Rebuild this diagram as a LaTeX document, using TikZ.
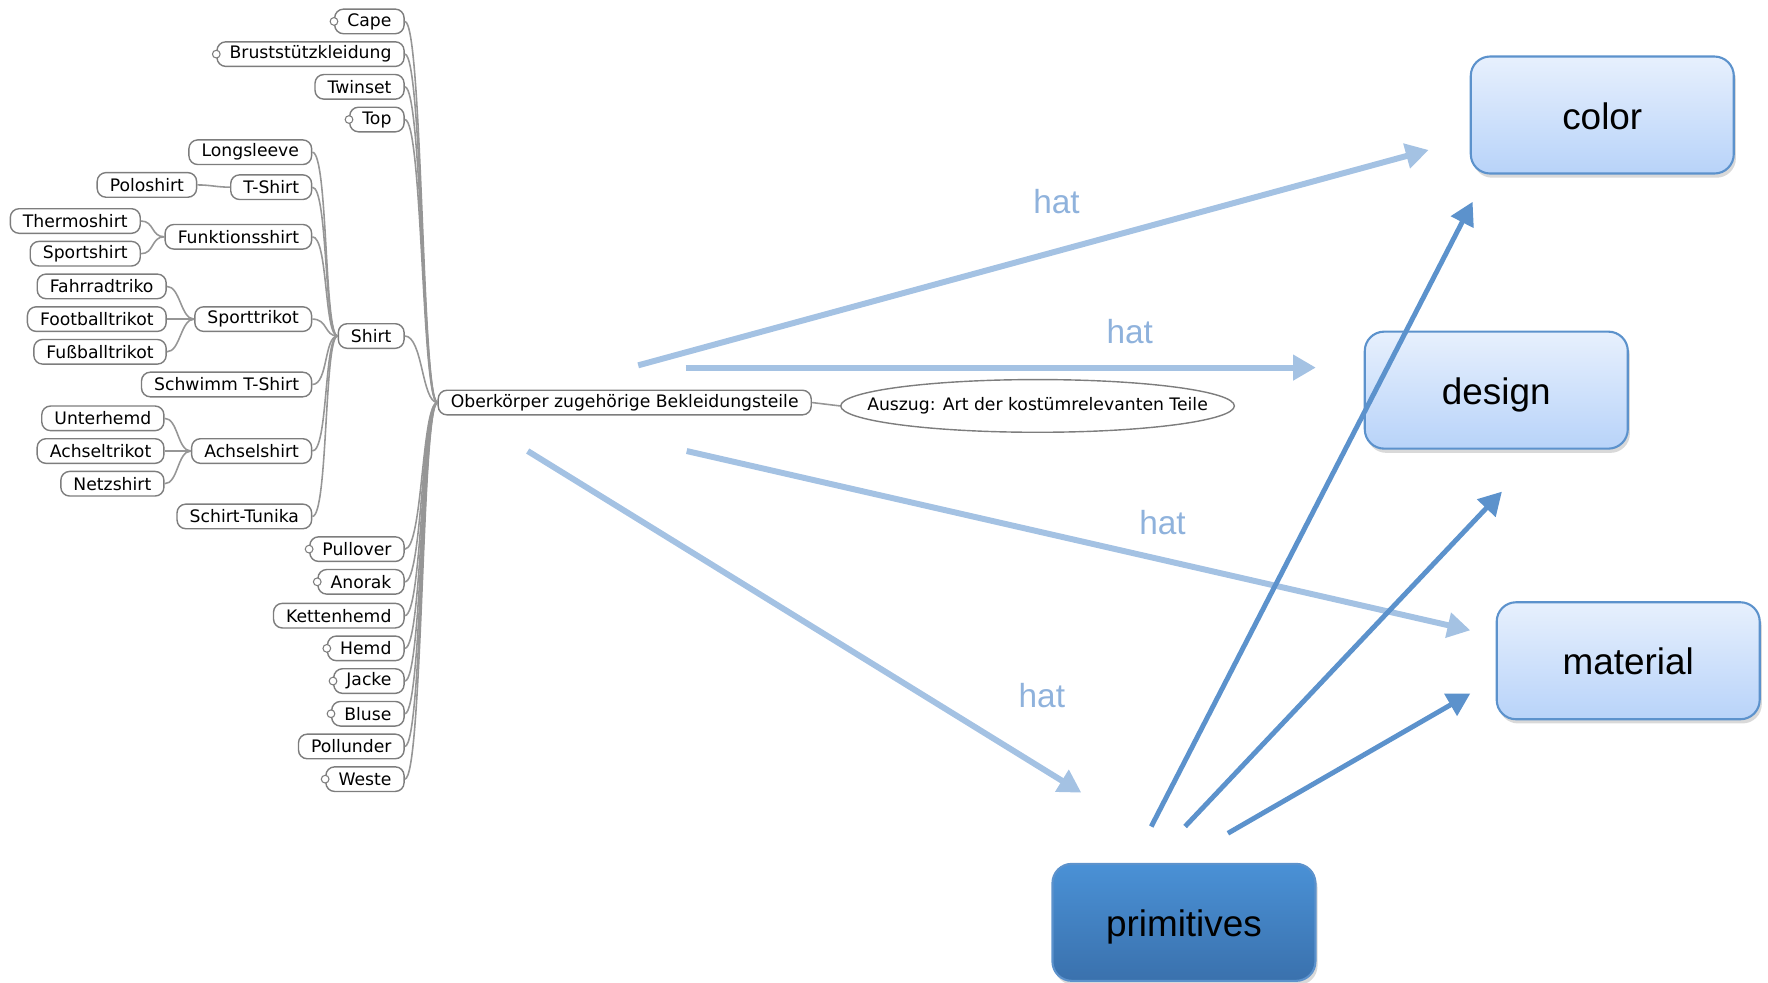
\documentclass[tikz,border=0pt]{standalone}
\usepackage{fontspec}
\setmainfont{Liberation Sans}
\newfontfamily\mapfont{DejaVu Sans}
\usetikzlibrary{arrows.meta,positioning,shapes.geometric,shadows}
\definecolor{rim}{RGB}{125,125,125}
\definecolor{twig}{RGB}{150,150,150}
\definecolor{sky}{RGB}{231,240,253}
\definecolor{skydeep}{RGB}{184,211,249}
\definecolor{steel}{RGB}{92,146,204}
\definecolor{haze}{RGB}{164,194,227}
\definecolor{hatblue}{RGB}{143,178,220}
\definecolor{primtop}{RGB}{74,145,214}
\definecolor{primbot}{RGB}{58,113,173}
\tikzset{
  >={Triangle[length=6.5pt,width=7pt]},
  leaf/.style={draw=rim,fill=white,rounded corners=2.5pt,line width=0.4pt,
    font=\mapfont\fontsize{4.9}{5.5}\selectfont,minimum height=7pt,
    inner xsep=3.6pt,inner ysep=0.5pt,anchor=east},
  knob/.style={circle,draw=rim,fill=white,line width=0.3pt,inner sep=0pt,minimum size=2.2pt},
  twig/.style={draw=twig,line width=0.45pt},
  facet/.style={draw=steel,line width=0.6pt,rounded corners=5.5pt,
    top color=sky,bottom color=skydeep,minimum width=2.63cm,minimum height=1.17cm,
    font=\fontsize{10.5}{12}\selectfont,text height=8pt,text depth=0pt,
    drop shadow={opacity=0.3,shadow xshift=0.6pt,shadow yshift=-1.2pt}},
  has/.style={->,draw=haze,fill=haze,line width=1.7pt},
  uses/.style={->,draw=steel,fill=steel,line width=1.4pt},
  hat/.style={text=hatblue,font=\fontsize{9.5}{11}\selectfont},
}
\begin{document}
\begin{tikzpicture}[x=0.011276cm,y=-0.011276cm]
  \useasboundingbox (0,0) rectangle (1568,871);
  % mind map
  \node[leaf,anchor=west] (ober) at (388,357) {Oberkörper zugehörige Bekleidungsteile};
  \node[minimum width=112pt,minimum height=15pt,inner sep=0pt,anchor=west,
    font=\mapfont\fontsize{4.9}{5.5}\selectfont] (auszug) at (745,360) {Auszug: Art der kostümrelevanten Teile};
  \draw[rim,line width=0.4pt] (auszug.center) ellipse (56pt and 7.5pt);
  \draw[twig] (ober.east) -- (auszug.west);
  \foreach \nm/\txt/\y/\k in {cape/Cape/19/1,brust/Bruststützkleidung/48/1,twinset/Twinset/77/0,
      top/Top/106/1,shirt/Shirt/298/0,pullover/Pullover/487/1,anorak/Anorak/516/1,
      ketten/Kettenhemd/546/0,hemd/Hemd/575/1,jacke/Jacke/604/1,bluse/Bluse/633/1,
      pollunder/Pollunder/662/0,weste/Weste/691/1}{
    \node[leaf] (\nm) at (359,\y) {\txt};
    \ifnum\k=1 \node[knob] (\nm-knob) at (\nm.west) {}; \fi
    \draw[twig] (\nm.east) .. controls +(16,0) and +(-14,0) .. (ober.west);
  }
  \foreach \nm/\txt/\y in {longsleeve/Longsleeve/135,tshirt/T-Shirt/166,funktion/Funktionsshirt/210,
      sporttrikot/Sporttrikot/283,schwimm/Schwimm T-Shirt/341,achsel/Achselshirt/400,
      tunika/Schirt-Tunika/458}{
    \node[leaf] (\nm) at (277,\y) {\txt};
    \draw[twig] (\nm.east) .. controls +(14,0) and +(-12,0) .. (shirt.west);
  }
  \foreach \nm/\txt/\x/\y/\up in {polo/Poloshirt/175/164/tshirt,thermo/Thermoshirt/125/196/funktion,
      sport/Sportshirt/125/225/funktion,fahrrad/Fahrradtriko/148/254/sporttrikot,
      football/Footballtrikot/148/283/sporttrikot,fussball/Fußballtrikot/148/312/sporttrikot,
      unter/Unterhemd/146/371/achsel,achseltri/Achseltrikot/146/400/achsel,netz/Netzshirt/146/429/achsel}{
    \node[leaf] (\nm) at (\x,\y) {\txt};
    \draw[twig] (\nm.east) .. controls +(12,0) and +(-12,0) .. (\up.west);
  }
  % model boxes
  \node[facet] (color) at (1421,102) {color};
  \node[facet] (design) at (1327,346) {design};
  \node[facet] (material) at (1444,586) {material};
  \node[facet,top color=primtop,bottom color=primbot] (prims) at (1050,818) {primitives};
  \foreach \i/\sx/\sy/\ex/\ey/\lx/\ly in {1/566/324/1267/133/937/179,2/608/326/1167/326/1002/294,
      3/609/400/1304/559/1031/463,4/468/400/959/703/924/617}{
    \coordinate (from\i) at (\sx,\sy);
    \coordinate (to\i) at (\ex,\ey);
    \draw[has] (from\i) -- (to\i);
    \node[hat] (hat\i) at (\lx,\ly) {hat};
  }
  \foreach \i/\sx/\sy/\ex/\ey in {1/1021/733/1306/179,2/1051/733/1332/436,3/1089/739/1304/615}{
    \coordinate (prim\i) at (\sx,\sy);
    \coordinate (goal\i) at (\ex,\ey);
    \draw[uses] (prim\i) -- (goal\i);
  }
\end{tikzpicture}
\end{document}
